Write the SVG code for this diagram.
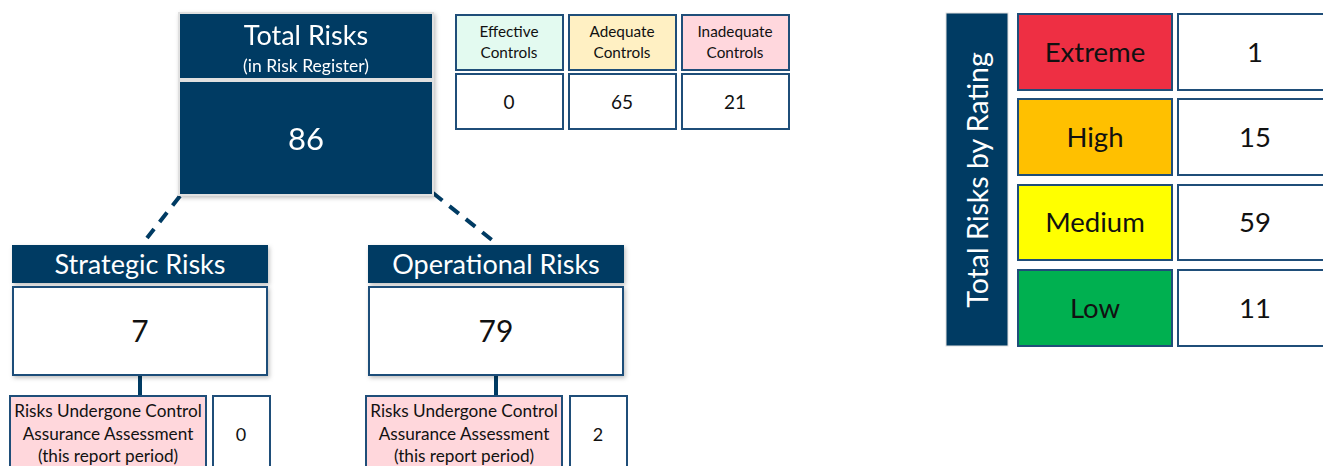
<svg xmlns="http://www.w3.org/2000/svg" width="1323" height="466" viewBox="0 0 1323 466">
<defs>
<filter id="sh" x="-10%" y="-10%" width="125%" height="130%">
<feDropShadow dx="1.5" dy="2" stdDeviation="2" flood-color="#000" flood-opacity="0.25"/>
</filter>
</defs>
<style>
text{font-family:Lato,"Open Sans","Liberation Sans",sans-serif;text-anchor:middle}
.navy{fill:#003B63}
.wt{fill:#fff}
.bk{fill:#111}
.box{stroke:#1F4E79;stroke-width:2}
.conn{stroke:#003B63;stroke-width:4;fill:none}
.lbl{font-size:15.3px}
.pk{font-size:17.2px}
.hd{font-size:27px}
.rt{font-size:27.5px}
</style>
<rect width="1323" height="466" fill="#fff"/>

<g id="connectors">
<line class="conn" x1="180" y1="196" x2="147" y2="238" stroke-dasharray="12 9"/>
<line class="conn" x1="433" y1="193" x2="497" y2="244" stroke-dasharray="12 9"/>
<line class="conn" x1="140" y1="375" x2="140" y2="395"/>
<line class="conn" x1="496" y1="375" x2="496" y2="395"/>
</g>

<g id="total-risks" filter="url(#sh)">
<rect x="179" y="13" width="254" height="66" class="navy" stroke="#e0e0e0" stroke-width="2"/>
<rect x="179" y="81" width="254" height="114" class="navy" stroke="#e0e0e0" stroke-width="2"/>
<text x="306" y="45" font-size="27" class="wt">Total Risks</text>
<text x="306" y="72" font-size="17.5" class="wt">(in Risk Register)</text>
<text x="306" y="150" font-size="31" class="wt">86</text>
</g>

<g id="controls">
<rect x="456" y="15" width="107" height="55" fill="#E3FAF0" class="box"/>
<rect x="569" y="15" width="107" height="55" fill="#FFF0C3" class="box"/>
<rect x="682" y="15" width="107" height="55" fill="#FFD7DD" class="box"/>
<text x="509" y="37" class="bk lbl">Effective</text>
<text x="509" y="58" class="bk lbl">Controls</text>
<text x="622" y="37" class="bk lbl">Adequate</text>
<text x="622" y="58" class="bk lbl">Controls</text>
<text x="735" y="37" class="bk lbl">Inadequate</text>
<text x="735" y="58" class="bk lbl">Controls</text>
<rect x="456" y="74" width="107" height="55" fill="#fff" class="box"/>
<rect x="569" y="74" width="107" height="55" fill="#fff" class="box"/>
<rect x="682" y="74" width="107" height="55" fill="#fff" class="box"/>
<text x="509" y="109" font-size="19" class="bk">0</text>
<text x="622" y="109" font-size="19" class="bk">65</text>
<text x="735" y="109" font-size="19" class="bk">21</text>
</g>

<g id="strategic-risks">
<g filter="url(#sh)">
<rect x="12" y="245" width="256" height="38" class="navy"/>
<rect x="13" y="287" width="254" height="88" fill="#fff" class="box"/>
</g>
<text x="140" y="274" class="wt hd">Strategic Risks</text>
<text x="140" y="342" font-size="30" class="bk">7</text>
</g>

<g id="strategic-assurance">
<rect x="10" y="396" width="196" height="80" fill="#FFD7DC" class="box"/>
<text x="108" y="417" class="bk pk">Risks Undergone Control</text>
<text x="108" y="440" class="bk pk">Assurance Assessment</text>
<text x="108" y="462" class="bk pk">(this report period)</text>
<rect x="213" y="396" width="57" height="80" fill="#fff" class="box"/>
<text x="241" y="441" font-size="18" class="bk">0</text>
</g>

<g id="operational-risks">
<g filter="url(#sh)">
<rect x="368" y="245" width="256" height="38" class="navy"/>
<rect x="369" y="287" width="254" height="88" fill="#fff" class="box"/>
</g>
<text x="496" y="274" class="wt hd">Operational Risks</text>
<text x="496" y="342" font-size="30" class="bk">79</text>
</g>

<g id="operational-assurance">
<rect x="366" y="396" width="196" height="80" fill="#FFD7DC" class="box"/>
<text x="464" y="417" class="bk pk">Risks Undergone Control</text>
<text x="464" y="440" class="bk pk">Assurance Assessment</text>
<text x="464" y="462" class="bk pk">(this report period)</text>
<rect x="570" y="396" width="57" height="80" fill="#fff" class="box"/>
<text x="598" y="441" font-size="18" class="bk">2</text>
</g>

<g id="rating-title">
<rect x="946" y="13" width="62" height="333" class="navy" stroke="#e0e0e0" stroke-width="1"/>
<text x="0" y="0" font-size="28.5" class="wt" transform="translate(988,180) rotate(-90)">Total Risks by Rating</text>
</g>

<g id="rating-extreme">
<rect x="1018" y="14" width="154" height="76" fill="#EE2F43" class="box"/>
<text x="1095" y="62" class="bk rt">Extreme</text>
<rect x="1178" y="14" width="160" height="76" fill="#fff" class="box"/>
<text x="1255" y="62" class="bk rt">1</text>
</g>
<g id="rating-high">
<rect x="1018" y="99" width="154" height="76" fill="#FFC000" class="box"/>
<text x="1095" y="147" class="bk rt">High</text>
<rect x="1178" y="99" width="160" height="76" fill="#fff" class="box"/>
<text x="1255" y="147" class="bk rt">15</text>
</g>
<g id="rating-medium">
<rect x="1018" y="185" width="154" height="75" fill="#FFFF00" class="box"/>
<text x="1095" y="232" class="bk rt">Medium</text>
<rect x="1178" y="185" width="160" height="75" fill="#fff" class="box"/>
<text x="1255" y="232" class="bk rt">59</text>
</g>
<g id="rating-low">
<rect x="1018" y="270" width="154" height="76" fill="#00B050" class="box"/>
<text x="1095" y="318" class="bk rt">Low</text>
<rect x="1178" y="270" width="160" height="76" fill="#fff" class="box"/>
<text x="1255" y="318" class="bk rt">11</text>
</g>
</svg>
